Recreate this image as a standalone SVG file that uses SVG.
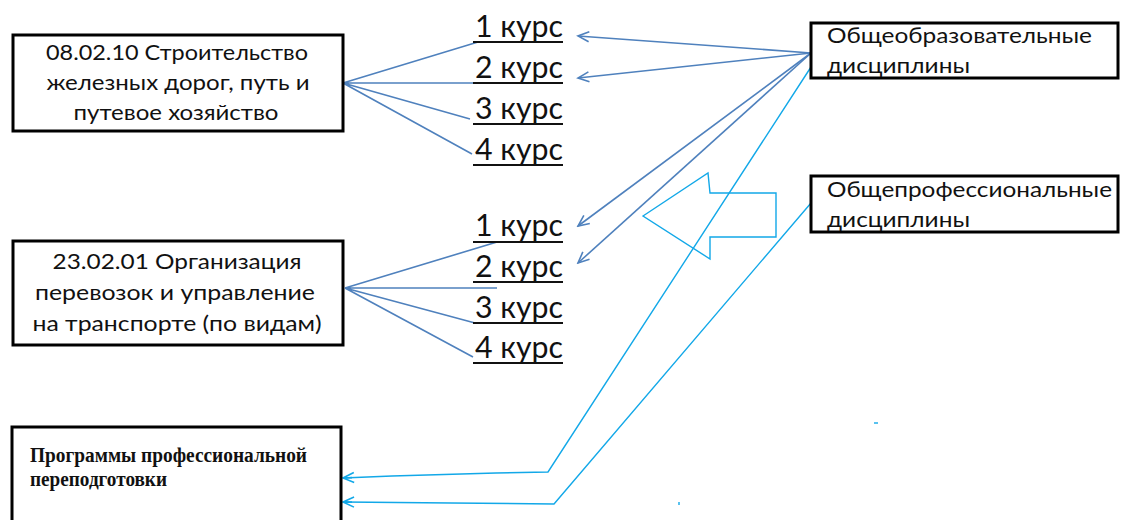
<svg xmlns="http://www.w3.org/2000/svg" width="1121" height="520" viewBox="0 0 1121 520">
<defs>
<style>
.box{fill:#fff;stroke:#000;stroke-width:3}
.t{font-family:Lato,"Open Sans","Liberation Sans",sans-serif;font-size:21px;fill:#111}
.c{font-family:Lato,"Open Sans","Liberation Sans",sans-serif;font-size:31px;fill:#111}
.s{font-family:"Liberation Serif","Times New Roman",serif;font-size:20px;font-weight:bold;fill:#111}
.ul{stroke:#111;stroke-width:2}
.dk{fill:none;stroke:#4F81BD;stroke-width:1.6}
.lb{fill:none;stroke:#12A8E8;stroke-width:1.4}
</style>
<marker id="ad" viewBox="-12 -7 14 14" refX="0" refY="0" markerWidth="14" markerHeight="14" orient="auto" markerUnits="userSpaceOnUse">
<path d="M-11,-5 L0,0 L-11,5" fill="none" stroke="#4F81BD" stroke-width="1.6"/>
</marker>
<marker id="al" viewBox="-12 -7 14 14" refX="0" refY="0" markerWidth="14" markerHeight="14" orient="auto" markerUnits="userSpaceOnUse">
<path d="M-11,-5 L0,0 L-11,5 M-9,0 L0,0" fill="none" stroke="#12A8E8" stroke-width="1.6"/>
</marker>
</defs>
<rect width="1121" height="520" fill="#fff"/>

<g id="connectors">
<path class="dk" d="M343,83 L478,42 M343,83 L493,83 M343,83 L470,119 M343,83 L472,154"/>
<path class="dk" d="M345,288 L497,242 M345,288 L497,288 M345,288 L475,323 M345,288 L473,357"/>
<line class="dk" x1="811" y1="53" x2="578" y2="36" marker-end="url(#ad)"/>
<line class="dk" x1="811" y1="53" x2="578" y2="78" marker-end="url(#ad)"/>
<line class="dk" x1="811" y1="53" x2="578" y2="226" marker-end="url(#ad)"/>
<line class="dk" x1="811" y1="53" x2="578" y2="263" marker-end="url(#ad)"/>
<polyline class="lb" points="811,67 548,472 496,473 392,476 343,478" marker-end="url(#al)"/>
<polyline class="lb" points="811,203 554,504 451,503 343,502" marker-end="url(#al)"/>
<polygon class="lb" points="643,216 708,173 710,193 776,193 776,237 710,237 710,259"/>
<line class="lb" x1="874" y1="423" x2="878" y2="423" stroke-width="2"/>
<line class="lb" x1="679" y1="502" x2="679" y2="505" stroke-width="2"/>
</g>

<g id="node-spec1">
<rect class="box" x="13" y="35" width="330" height="96"/>
<text class="t" x="177" y="60" text-anchor="middle" textLength="262" lengthAdjust="spacingAndGlyphs">08.02.10 Строительство</text>
<text class="t" x="178" y="90" text-anchor="middle" textLength="263" lengthAdjust="spacingAndGlyphs">железных дорог, путь и</text>
<text class="t" x="176" y="120" text-anchor="middle" textLength="205" lengthAdjust="spacingAndGlyphs">путевое хозяйство</text>
</g>

<g id="node-spec2">
<rect class="box" x="13" y="241" width="330" height="104"/>
<text class="t" x="177" y="269" text-anchor="middle" textLength="249" lengthAdjust="spacingAndGlyphs">23.02.01 Организация</text>
<text class="t" x="175" y="300" text-anchor="middle" textLength="280" lengthAdjust="spacingAndGlyphs">перевозок и управление</text>
<text class="t" x="177" y="331" text-anchor="middle" textLength="289" lengthAdjust="spacingAndGlyphs">на транспорте (по видам)</text>
</g>

<g id="node-courses1">
<text class="c" x="475" y="37" textLength="88" lengthAdjust="spacingAndGlyphs">1 курс</text>
<text class="c" x="475" y="78" textLength="88" lengthAdjust="spacingAndGlyphs">2 курс</text>
<text class="c" x="475" y="119" textLength="88" lengthAdjust="spacingAndGlyphs">3 курс</text>
<text class="c" x="475" y="160" textLength="88" lengthAdjust="spacingAndGlyphs">4 курс</text>
<line class="ul" x1="473" y1="42" x2="563" y2="42"/>
<line class="ul" x1="473" y1="83" x2="563" y2="83"/>
<line class="ul" x1="473" y1="124" x2="563" y2="124"/>
<line class="ul" x1="473" y1="165" x2="563" y2="165"/>
</g>

<g id="node-courses2">
<text class="c" x="475" y="236" textLength="88" lengthAdjust="spacingAndGlyphs">1 курс</text>
<text class="c" x="475" y="277" textLength="88" lengthAdjust="spacingAndGlyphs">2 курс</text>
<text class="c" x="475" y="318" textLength="88" lengthAdjust="spacingAndGlyphs">3 курс</text>
<text class="c" x="475" y="358" textLength="88" lengthAdjust="spacingAndGlyphs">4 курс</text>
<line class="ul" x1="473" y1="242" x2="563" y2="242"/>
<line class="ul" x1="473" y1="282" x2="563" y2="282"/>
<line class="ul" x1="473" y1="323" x2="563" y2="323"/>
<line class="ul" x1="473" y1="363" x2="563" y2="363"/>
</g>

<g id="node-general">
<rect class="box" x="811" y="23" width="307" height="55"/>
<text class="t" x="827" y="43" textLength="265" lengthAdjust="spacingAndGlyphs">Общеобразовательные</text>
<text class="t" x="827" y="73" textLength="143" lengthAdjust="spacingAndGlyphs">дисциплины</text>
</g>

<g id="node-profgeneral">
<rect class="box" x="811" y="176" width="307" height="56"/>
<text class="t" x="827" y="197" textLength="285" lengthAdjust="spacingAndGlyphs">Общепрофессиональные</text>
<text class="t" x="827" y="227" textLength="143" lengthAdjust="spacingAndGlyphs">дисциплины</text>
</g>

<g id="node-retraining">
<rect class="box" x="12" y="427" width="329" height="110" stroke-width="2.5"/>
<text class="s" x="30" y="462" textLength="277" lengthAdjust="spacingAndGlyphs">Программы профессиональной</text>
<text class="s" x="30" y="486" textLength="137" lengthAdjust="spacingAndGlyphs">переподготовки</text>
</g>
</svg>
